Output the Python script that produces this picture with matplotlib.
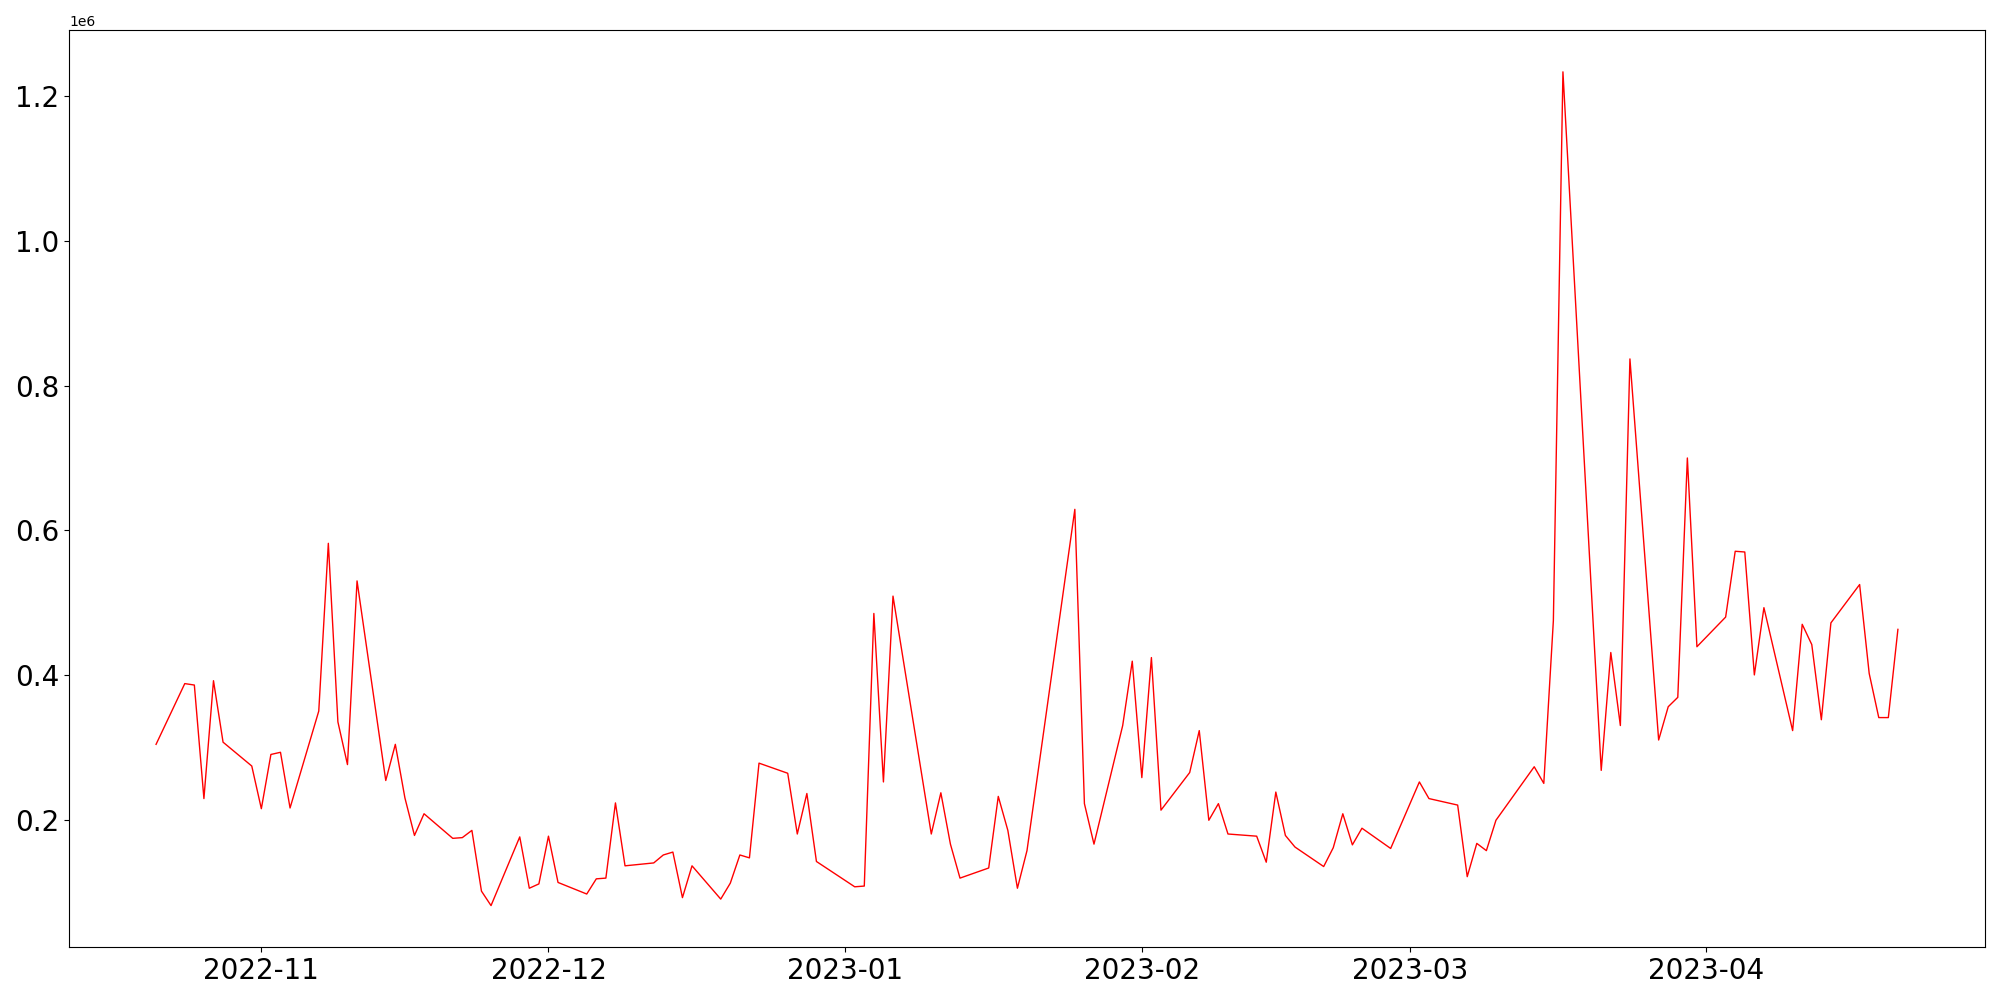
import matplotlib
matplotlib.use("Agg")
import matplotlib.pyplot as plt
import pandas as pd

dates = [
    "2022-10-21", "2022-10-24", "2022-10-25", "2022-10-26", "2022-10-27", "2022-10-28",
    "2022-10-31", "2022-11-01", "2022-11-02", "2022-11-03", "2022-11-04",
    "2022-11-07", "2022-11-08", "2022-11-09", "2022-11-10", "2022-11-11",
    "2022-11-14", "2022-11-15", "2022-11-16", "2022-11-17", "2022-11-18",
    "2022-11-21", "2022-11-22", "2022-11-23", "2022-11-24", "2022-11-25",
    "2022-11-28", "2022-11-29", "2022-11-30", "2022-12-01", "2022-12-02",
    "2022-12-05", "2022-12-06", "2022-12-07", "2022-12-08", "2022-12-09",
    "2022-12-12", "2022-12-13", "2022-12-14", "2022-12-15", "2022-12-16",
    "2022-12-19", "2022-12-20", "2022-12-21", "2022-12-22", "2022-12-23",
    "2022-12-26", "2022-12-27", "2022-12-28", "2022-12-29",
    "2023-01-02", "2023-01-03", "2023-01-04", "2023-01-05", "2023-01-06",
    "2023-01-10", "2023-01-11", "2023-01-12", "2023-01-13",
    "2023-01-16", "2023-01-17", "2023-01-18", "2023-01-19", "2023-01-20",
    "2023-01-25", "2023-01-26", "2023-01-27",
    "2023-01-30", "2023-01-31", "2023-02-01", "2023-02-02", "2023-02-03",
    "2023-02-06", "2023-02-07", "2023-02-08", "2023-02-09", "2023-02-10",
    "2023-02-13", "2023-02-14", "2023-02-15", "2023-02-16", "2023-02-17",
    "2023-02-20", "2023-02-21", "2023-02-22", "2023-02-23", "2023-02-24",
    "2023-02-27", "2023-03-02", "2023-03-03",
    "2023-03-06", "2023-03-07", "2023-03-08", "2023-03-09", "2023-03-10",
    "2023-03-14", "2023-03-15", "2023-03-16", "2023-03-17",
    "2023-03-21", "2023-03-22", "2023-03-23", "2023-03-24",
    "2023-03-27", "2023-03-28", "2023-03-29", "2023-03-30", "2023-03-31",
    "2023-04-03", "2023-04-04", "2023-04-05", "2023-04-06", "2023-04-07",
    "2023-04-10", "2023-04-11", "2023-04-12", "2023-04-13", "2023-04-14",
    "2023-04-17", "2023-04-18", "2023-04-19", "2023-04-20", "2023-04-21",
]

volume = [
    304000, 388000, 386000, 229000, 392000, 307000,
    274000, 215000, 290000, 293000, 216000,
    350000, 582000, 335000, 276000, 530000,
    254000, 304000, 230000, 178000, 208000,
    174000, 175000, 185000, 101000, 81000,
    176000, 105000, 111000, 177000, 113000,
    97000, 118000, 119000, 223000, 136000,
    140000, 151000, 155000, 92000, 136000,
    90000, 112000, 151000, 147000, 278000,
    264000, 180000, 236000, 142000,
    107000, 108000, 485000, 252000, 509000,
    180000, 237000, 166000, 119000,
    133000, 232000, 185000, 105000, 157000,
    629000, 222000, 166000,
    330000, 419000, 258000, 424000, 213000,
    265000, 323000, 199000, 222000, 180000,
    177000, 141000, 238000, 178000, 162000,
    135000, 161000, 208000, 165000, 188000,
    160000, 252000, 229000,
    220000, 121000, 167000, 157000, 199000,
    273000, 250000, 475000, 1234000,
    268000, 431000, 330000, 837000,
    310000, 356000, 369000, 700000, 439000,
    480000, 571000, 570000, 400000, 493000,
    323000, 470000, 442000, 338000, 472000,
    525000, 402000, 341000, 341000, 463000,
]

timestamps = pd.to_datetime(dates)

plt.figure(figsize=(20, 10))
plt.plot(timestamps, volume, color='red', linewidth=1.0)
plt.xticks(fontsize=20)
plt.yticks(fontsize=20)
plt.tight_layout()
plt.savefig('out.png', dpi=100)
